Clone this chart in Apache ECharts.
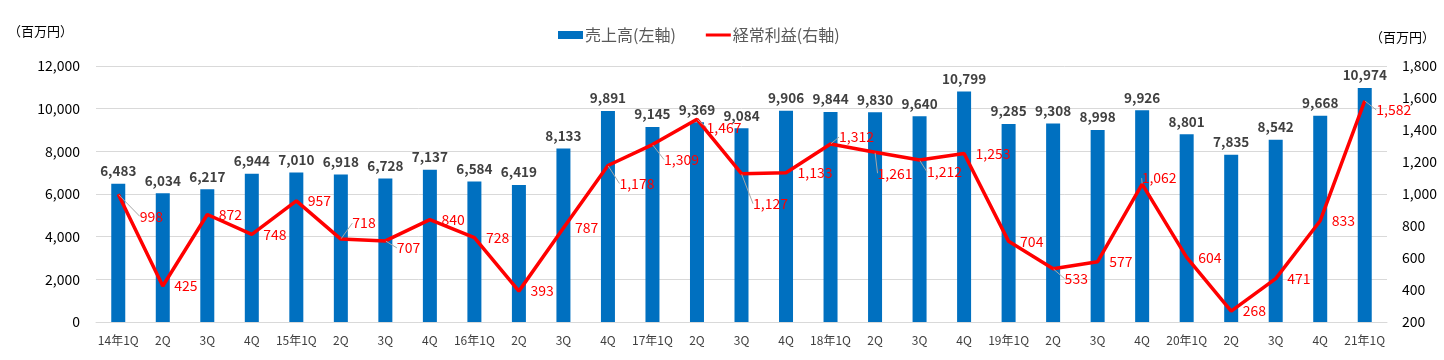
<!DOCTYPE html>
<html><head><meta charset="utf-8">
<script src="https://cdn.jsdelivr.net/npm/echarts@6/dist/echarts.min.js"></script>
<style>html,body{margin:0;padding:0;background:#fff}#c{width:1444px;height:360px}</style>
</head><body><div id="c"></div>
<script>
const categories = ['14年1Q','2Q','3Q','4Q','15年1Q','2Q','3Q','4Q','16年1Q','2Q','3Q','4Q','17年1Q','2Q','3Q','4Q','18年1Q','2Q','3Q','4Q','19年1Q','2Q','3Q','4Q','20年1Q','2Q','3Q','4Q','21年1Q'];
const sales = [6483,6034,6217,6944,7010,6918,6728,7137,6584,6419,8133,9891,9145,9369,9084,9906,9844,9830,9640,10799,9285,9308,8998,9926,8801,7835,8542,9668,10974];
const profit = [998,425,872,748,957,718,707,840,728,393,787,1178,1309,1467,1127,1133,1312,1261,1212,1253,704,533,577,1062,604,268,471,833,1582];
const leftTicks = [0,12000,2000];
const rightTicks = [200,1800,200];
// label nudges (layout only), pixels: [dx, dy] from default right-side placement
const labelNudge = [[10,22],[0,0],[0,0],[0,0],[0,0],[0,-16],[0,7],[0,0],[0,0],[0,0],[0,0],[0,18],[0,15],[-2,8],[0,30],[0,0],[-3,-7],[-9,21],[-4,12],[0,0],[0,0],[0,10],[0,0],[-12,-6],[0,0],[0,0],[0,0],[0,0],[0,9]];
const FONT = "'Noto Sans CJK JP', 'Open Sans', sans-serif";
const fmt = v => v.toLocaleString('en-US');
const chart = echarts.init(document.getElementById('c'));
chart.setOption({
  animation:false,
  textStyle:{fontFamily:FONT},
  legend:{
    top:22, left:553, itemGap:30, itemWidth:25, itemHeight:8,
    textStyle:{fontSize:16,color:'#595959',fontFamily:FONT,padding:[0,0,0,-3]},
    data:[{name:'売上高(左軸)',icon:'rect'},{name:'経常利益(右軸)',icon:'path://M0,0H25V3H0Z'}]
  },
  graphic:[
    {type:'text',left:8,top:25,style:{text:'（百万円）',font:"13px 'Noto Sans CJK JP'",fill:'#000'}},
    {type:'text',left:1370,top:31,style:{text:'（百万円）',font:"13px 'Noto Sans CJK JP'",fill:'#000'}}
  ],
  grid:{left:96,right:57,top:66,bottom:38},
  xAxis:{
    type:'category', data:categories,
    axisLine:{lineStyle:{color:'#d9d9d9'}}, axisTick:{show:false},
    axisLabel:{fontSize:12,color:'#404040',fontFamily:FONT,interval:0,margin:12}
  },
  yAxis:[
    {type:'value',min:leftTicks[0],max:leftTicks[1],interval:leftTicks[2],
     axisLabel:{fontSize:14,color:'#000',formatter:fmt,margin:16},
     splitLine:{lineStyle:{color:'#d9d9d9'}},axisLine:{show:false}},
    {type:'value',min:rightTicks[0],max:rightTicks[1],interval:rightTicks[2],
     axisLabel:{fontSize:14,color:'#000',formatter:fmt,margin:15},
     splitLine:{show:false},axisLine:{show:false}}
  ],
  series:[
    {name:'売上高(左軸)',type:'bar',data:sales,barWidth:14,
     itemStyle:{color:'#0070c0'},
     label:{show:true,position:'top',distance:6,fontSize:13.5,fontWeight:'bold',color:'#404040',formatter:p=>fmt(p.value)}},
    {name:'経常利益(右軸)',type:'line',yAxisIndex:1,
     data:profit.map((v,i)=>({value:v,labelLine:{show:labelNudge[i][0]!==0||labelNudge[i][1]!==0}})),
     symbol:'circle',symbolSize:1,showSymbol:true,
     lineStyle:{color:'#ff0000',width:3.5},itemStyle:{color:'#ff0000'},
     label:{show:true,position:'right',distance:11,fontSize:14,color:'#ff0000',formatter:p=>fmt(p.value)},
     labelLine:{lineStyle:{color:'#a6a6a6',width:1}},
     labelLayout:p=>({dx:labelNudge[p.dataIndex][0],dy:labelNudge[p.dataIndex][1],hideOverlap:false})}
  ]
});
</script></body></html>
